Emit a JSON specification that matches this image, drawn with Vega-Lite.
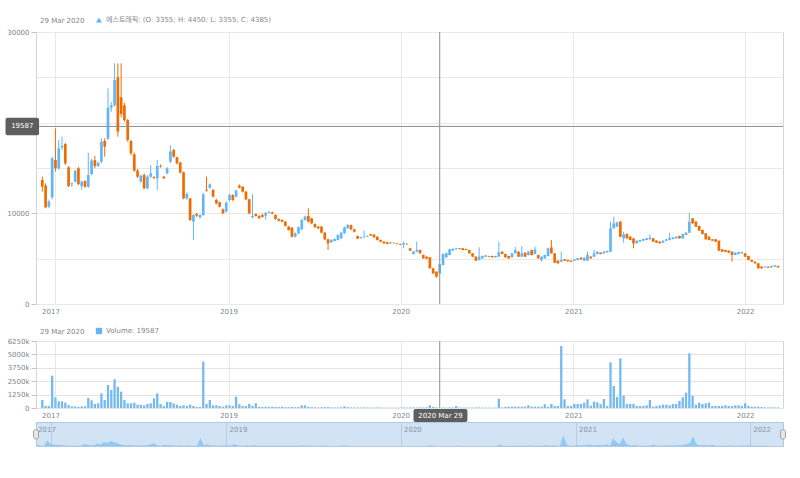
{
  "$schema": "https://vega.github.io/schema/vega-lite/v6.json",
  "background": "white",
  "padding": {"left": 5, "top": 15, "right": 17, "bottom": 20},
  "bounds": "flush",
  "spacing": 14,
  "data": {"values": [
{"i":0,"o":13678,"h":14045,"l":12391,"c":12943,"v":747000},
{"i":1,"o":13053,"h":13300,"l":10553,"c":10664,"v":200000},
{"i":2,"o":10737,"h":11500,"l":10600,"c":11288,"v":190000},
{"i":3,"o":11766,"h":16251,"l":11546,"c":16067,"v":3016000},
{"i":4,"o":15884,"h":19376,"l":14600,"c":14964,"v":995000},
{"i":5,"o":14964,"h":18089,"l":14781,"c":17170,"v":622000},
{"i":6,"o":17280,"h":18457,"l":17000,"c":17427,"v":622000},
{"i":7,"o":17648,"h":17795,"l":15332,"c":15516,"v":500000},
{"i":8,"o":15075,"h":15200,"l":12900,"c":13016,"v":265000},
{"i":9,"o":13200,"h":13400,"l":12900,"c":13311,"v":155000},
{"i":10,"o":13494,"h":14800,"l":13400,"c":14707,"v":155000},
{"i":11,"o":14964,"h":15100,"l":13100,"c":13237,"v":110000},
{"i":12,"o":13000,"h":13600,"l":12600,"c":13494,"v":155000},
{"i":13,"o":13568,"h":13650,"l":12800,"c":12943,"v":155000},
{"i":14,"o":12943,"h":16692,"l":12800,"c":14229,"v":933000},
{"i":15,"o":14340,"h":16000,"l":14200,"c":15810,"v":715000},
{"i":16,"o":15884,"h":16324,"l":14964,"c":15222,"v":373000},
{"i":17,"o":15222,"h":15700,"l":15100,"c":15589,"v":435000},
{"i":18,"o":15700,"h":18273,"l":15516,"c":17905,"v":1368000},
{"i":19,"o":17979,"h":18273,"l":16251,"c":17353,"v":747000},
{"i":20,"o":18236,"h":23787,"l":18089,"c":21655,"v":2146000},
{"i":21,"o":21655,"h":22300,"l":21200,"c":21912,"v":1679000},
{"i":22,"o":21912,"h":26544,"l":21765,"c":24706,"v":2674000},
{"i":23,"o":24999,"h":26544,"l":18457,"c":19008,"v":1990000},
{"i":24,"o":22794,"h":26544,"l":20600,"c":20956,"v":1524000},
{"i":25,"o":21912,"h":22200,"l":20100,"c":20295,"v":747000},
{"i":26,"o":20295,"h":20400,"l":17900,"c":18089,"v":435000},
{"i":27,"o":17979,"h":18100,"l":16400,"c":16618,"v":435000},
{"i":28,"o":16500,"h":16700,"l":14600,"c":14707,"v":500000},
{"i":29,"o":14707,"h":14900,"l":13900,"c":14045,"v":311000},
{"i":30,"o":13494,"h":14300,"l":13400,"c":14119,"v":311000},
{"i":31,"o":14229,"h":14400,"l":12650,"c":12759,"v":250000},
{"i":32,"o":12759,"h":14200,"l":12650,"c":14045,"v":373000},
{"i":33,"o":14045,"h":15332,"l":13900,"c":14413,"v":435000},
{"i":34,"o":14000,"h":14100,"l":13800,"c":13900,"v":902000},
{"i":35,"o":13862,"h":15884,"l":12575,"c":15222,"v":1368000},
{"i":36,"o":15222,"h":15400,"l":15050,"c":15150,"v":373000},
{"i":37,"o":14045,"h":14100,"l":13800,"c":13862,"v":187000},
{"i":38,"o":14413,"h":15100,"l":14300,"c":14964,"v":560000},
{"i":39,"o":15700,"h":17500,"l":15516,"c":16802,"v":560000},
{"i":40,"o":16986,"h":17100,"l":16150,"c":16251,"v":435000},
{"i":41,"o":16178,"h":16250,"l":15400,"c":15516,"v":311000},
{"i":42,"o":15589,"h":15700,"l":14400,"c":14487,"v":187000},
{"i":43,"o":14523,"h":14600,"l":11550,"c":11656,"v":250000},
{"i":44,"o":11656,"h":12300,"l":11500,"c":12134,"v":187000},
{"i":45,"o":11656,"h":11700,"l":9150,"c":9267,"v":311000},
{"i":46,"o":9083,"h":9900,"l":7061,"c":9818,"v":187000},
{"i":47,"o":9928,"h":10050,"l":9600,"c":9744,"v":93000},
{"i":48,"o":9560,"h":9900,"l":9400,"c":9818,"v":93000},
{"i":49,"o":9818,"h":12250,"l":9700,"c":12097,"v":4322000},
{"i":50,"o":12600,"h":14045,"l":12400,"c":12500,"v":373000},
{"i":51,"o":12832,"h":13300,"l":12700,"c":13200,"v":747000},
{"i":52,"o":12575,"h":12700,"l":11750,"c":11840,"v":250000},
{"i":53,"o":11472,"h":11600,"l":11000,"c":11105,"v":250000},
{"i":54,"o":11215,"h":11300,"l":10650,"c":10737,"v":187000},
{"i":55,"o":10443,"h":10550,"l":9900,"c":10002,"v":124000},
{"i":56,"o":10186,"h":11300,"l":10100,"c":11178,"v":250000},
{"i":57,"o":11472,"h":12150,"l":11350,"c":12024,"v":250000},
{"i":58,"o":12024,"h":12100,"l":11350,"c":11472,"v":187000},
{"i":59,"o":11840,"h":12600,"l":11750,"c":12501,"v":1058000},
{"i":60,"o":13053,"h":13200,"l":12750,"c":12832,"v":343000},
{"i":61,"o":12943,"h":13000,"l":12300,"c":12391,"v":187000},
{"i":62,"o":12391,"h":12450,"l":11450,"c":11546,"v":187000},
{"i":63,"o":11546,"h":11600,"l":9900,"c":10002,"v":373000},
{"i":64,"o":9560,"h":12097,"l":9450,"c":9707,"v":187000},
{"i":65,"o":9928,"h":10000,"l":9650,"c":9707,"v":435000},
{"i":66,"o":9707,"h":9800,"l":9400,"c":9451,"v":124000},
{"i":67,"o":9800,"h":9950,"l":9550,"c":9600,"v":93000},
{"i":68,"o":9750,"h":10150,"l":9300,"c":10050,"v":124000},
{"i":69,"o":10050,"h":10250,"l":10000,"c":10150,"v":93000},
{"i":70,"o":10100,"h":10200,"l":9900,"c":9950,"v":124000},
{"i":71,"o":9817,"h":9900,"l":9300,"c":9376,"v":93000},
{"i":72,"o":9376,"h":9450,"l":9100,"c":9192,"v":93000},
{"i":73,"o":9266,"h":9350,"l":9000,"c":9082,"v":124000},
{"i":74,"o":9082,"h":9150,"l":8550,"c":8604,"v":80000},
{"i":75,"o":8530,"h":8600,"l":8100,"c":8163,"v":70000},
{"i":76,"o":8420,"h":8500,"l":7350,"c":7428,"v":90000},
{"i":77,"o":7428,"h":7900,"l":7350,"c":7795,"v":80000},
{"i":78,"o":7795,"h":8550,"l":7700,"c":8457,"v":90000},
{"i":79,"o":8236,"h":9400,"l":8150,"c":9266,"v":250000},
{"i":80,"o":9266,"h":9750,"l":9200,"c":9633,"v":250000},
{"i":81,"o":9707,"h":10550,"l":9000,"c":9082,"v":120000},
{"i":82,"o":9450,"h":9500,"l":8800,"c":8898,"v":80000},
{"i":83,"o":8825,"h":8900,"l":8400,"c":8457,"v":70000},
{"i":84,"o":8530,"h":8600,"l":8250,"c":8347,"v":60000},
{"i":85,"o":8530,"h":8600,"l":7800,"c":7869,"v":70000},
{"i":86,"o":7869,"h":7950,"l":7050,"c":7133,"v":80000},
{"i":87,"o":7133,"h":7200,"l":5957,"c":6692,"v":90000},
{"i":88,"o":6803,"h":7150,"l":6750,"c":7060,"v":60000},
{"i":89,"o":6950,"h":7250,"l":6900,"c":7170,"v":50000},
{"i":90,"o":7060,"h":7700,"l":7000,"c":7612,"v":60000},
{"i":91,"o":7244,"h":7950,"l":7200,"c":7869,"v":70000},
{"i":92,"o":7795,"h":8550,"l":7750,"c":8457,"v":155000},
{"i":93,"o":8347,"h":8800,"l":8300,"c":8714,"v":80000},
{"i":94,"o":8714,"h":8750,"l":8150,"c":8236,"v":60000},
{"i":95,"o":8236,"h":8300,"l":7900,"c":7979,"v":50000},
{"i":96,"o":7501,"h":7550,"l":7150,"c":7207,"v":50000},
{"i":97,"o":7244,"h":7450,"l":7200,"c":7354,"v":40000},
{"i":98,"o":7354,"h":8100,"l":7300,"c":7428,"v":60000},
{"i":99,"o":7428,"h":7550,"l":7380,"c":7501,"v":50000},
{"i":100,"o":7700,"h":7750,"l":7500,"c":7550,"v":40000},
{"i":101,"o":7650,"h":7700,"l":7300,"c":7354,"v":40000},
{"i":102,"o":7428,"h":7450,"l":7000,"c":7060,"v":50000},
{"i":103,"o":7060,"h":7100,"l":6800,"c":6876,"v":40000},
{"i":104,"o":6876,"h":6950,"l":6650,"c":6692,"v":30000},
{"i":105,"o":6803,"h":6850,"l":6580,"c":6619,"v":30000},
{"i":106,"o":6766,"h":6800,"l":6650,"c":6692,"v":30000},
{"i":107,"o":6692,"h":6800,"l":6650,"c":6766,"v":30000},
{"i":108,"o":6692,"h":6720,"l":6580,"c":6619,"v":30000},
{"i":109,"o":6619,"h":6650,"l":6500,"c":6545,"v":40000},
{"i":110,"o":6545,"h":6900,"l":6141,"c":6692,"v":60000},
{"i":111,"o":6650,"h":6700,"l":6550,"c":6582,"v":40000},
{"i":112,"o":6141,"h":6200,"l":5850,"c":5884,"v":60000},
{"i":113,"o":5516,"h":5850,"l":5450,"c":5773,"v":50000},
{"i":114,"o":5773,"h":6876,"l":5700,"c":5957,"v":40000},
{"i":115,"o":5957,"h":6000,"l":5550,"c":5590,"v":60000},
{"i":116,"o":5406,"h":5450,"l":5000,"c":5038,"v":50000},
{"i":117,"o":5222,"h":5250,"l":4950,"c":5001,"v":60000},
{"i":118,"o":5149,"h":5200,"l":3900,"c":3935,"v":250000},
{"i":119,"o":3935,"h":4000,"l":3300,"c":3384,"v":90000},
{"i":120,"o":3568,"h":3600,"l":2900,"c":3016,"v":60000},
{"i":121,"o":3355,"h":4450,"l":3355,"c":4385,"v":19587},
{"i":122,"o":4303,"h":5600,"l":4250,"c":5516,"v":50000},
{"i":123,"o":5149,"h":5700,"l":5100,"c":5590,"v":40000},
{"i":124,"o":5406,"h":6100,"l":5350,"c":6031,"v":60000},
{"i":125,"o":5884,"h":6150,"l":5850,"c":6067,"v":50000},
{"i":126,"o":6031,"h":6200,"l":6000,"c":6141,"v":187000},
{"i":127,"o":6141,"h":6180,"l":6030,"c":6067,"v":50000},
{"i":128,"o":6141,"h":6180,"l":5920,"c":5957,"v":40000},
{"i":129,"o":6067,"h":6100,"l":5920,"c":5957,"v":40000},
{"i":130,"o":5957,"h":6000,"l":5550,"c":5590,"v":50000},
{"i":131,"o":5590,"h":5620,"l":5180,"c":5222,"v":40000},
{"i":132,"o":5222,"h":5250,"l":4750,"c":4781,"v":50000},
{"i":133,"o":4854,"h":6251,"l":4800,"c":5222,"v":60000},
{"i":134,"o":5038,"h":5350,"l":5000,"c":5296,"v":40000},
{"i":135,"o":5222,"h":5400,"l":5180,"c":5369,"v":40000},
{"i":136,"o":5296,"h":5330,"l":5190,"c":5222,"v":30000},
{"i":137,"o":5296,"h":5330,"l":5110,"c":5149,"v":30000},
{"i":138,"o":5149,"h":5330,"l":5110,"c":5296,"v":40000},
{"i":139,"o":5222,"h":6876,"l":5190,"c":5700,"v":870000},
{"i":140,"o":5773,"h":5800,"l":5480,"c":5516,"v":60000},
{"i":141,"o":5516,"h":5550,"l":5110,"c":5149,"v":100000},
{"i":142,"o":5296,"h":5330,"l":5000,"c":5038,"v":125000},
{"i":143,"o":5149,"h":5620,"l":5110,"c":5590,"v":125000},
{"i":144,"o":5590,"h":6300,"l":5550,"c":5957,"v":125000},
{"i":145,"o":5773,"h":5800,"l":5180,"c":5222,"v":125000},
{"i":146,"o":5222,"h":6400,"l":5180,"c":5590,"v":125000},
{"i":147,"o":5650,"h":5700,"l":5180,"c":5222,"v":125000},
{"i":148,"o":5405,"h":5850,"l":5350,"c":5772,"v":250000},
{"i":149,"o":5956,"h":6000,"l":5350,"c":5405,"v":125000},
{"i":150,"o":5515,"h":6324,"l":5480,"c":6030,"v":125000},
{"i":151,"o":5405,"h":5450,"l":5000,"c":5037,"v":125000},
{"i":152,"o":4853,"h":5260,"l":4669,"c":5221,"v":125000},
{"i":153,"o":5037,"h":5450,"l":5000,"c":5405,"v":343000},
{"i":154,"o":5295,"h":6200,"l":5250,"c":6140,"v":125000},
{"i":155,"o":6250,"h":7059,"l":5550,"c":5589,"v":374000},
{"i":156,"o":5589,"h":5620,"l":4500,"c":4559,"v":187000},
{"i":157,"o":4780,"h":4820,"l":4450,"c":4486,"v":187000},
{"i":158,"o":4669,"h":5772,"l":4620,"c":4853,"v":5783000},
{"i":159,"o":4927,"h":4960,"l":4740,"c":4780,"v":809000},
{"i":160,"o":4853,"h":4890,"l":4670,"c":4706,"v":187000},
{"i":161,"o":4780,"h":4810,"l":4630,"c":4669,"v":187000},
{"i":162,"o":4780,"h":4960,"l":4740,"c":4927,"v":374000},
{"i":163,"o":4853,"h":5070,"l":4820,"c":5037,"v":374000},
{"i":164,"o":5111,"h":5150,"l":4890,"c":4927,"v":374000},
{"i":165,"o":4780,"h":5150,"l":4740,"c":5111,"v":499000},
{"i":166,"o":4780,"h":5772,"l":4740,"c":5405,"v":809000},
{"i":167,"o":5221,"h":5260,"l":5000,"c":5037,"v":219000},
{"i":168,"o":5221,"h":5956,"l":5180,"c":5589,"v":592000},
{"i":169,"o":5515,"h":5810,"l":5480,"c":5772,"v":530000},
{"i":170,"o":5662,"h":5700,"l":5480,"c":5515,"v":343000},
{"i":171,"o":5589,"h":5810,"l":5550,"c":5772,"v":841000},
{"i":172,"o":5699,"h":5880,"l":5660,"c":5846,"v":187000},
{"i":173,"o":5772,"h":9081,"l":5740,"c":8345,"v":4260000},
{"i":174,"o":8345,"h":9632,"l":8300,"c":8897,"v":2053000},
{"i":175,"o":8530,"h":9100,"l":8480,"c":9007,"v":1027000},
{"i":176,"o":9081,"h":9150,"l":7380,"c":7427,"v":4634000},
{"i":177,"o":7243,"h":7978,"l":6765,"c":7684,"v":1151000},
{"i":178,"o":7721,"h":7800,"l":7200,"c":7243,"v":374000},
{"i":179,"o":7427,"h":7480,"l":7020,"c":7059,"v":374000},
{"i":180,"o":7243,"h":7280,"l":6140,"c":6691,"v":374000},
{"i":181,"o":6691,"h":7020,"l":6650,"c":6986,"v":187000},
{"i":182,"o":6875,"h":7100,"l":6840,"c":7059,"v":187000},
{"i":183,"o":6986,"h":7200,"l":6950,"c":7169,"v":187000},
{"i":184,"o":7059,"h":7280,"l":7020,"c":7243,"v":250000},
{"i":185,"o":7133,"h":7684,"l":7100,"c":7316,"v":747000},
{"i":186,"o":7243,"h":7280,"l":6840,"c":6875,"v":125000},
{"i":187,"o":6986,"h":7020,"l":6730,"c":6765,"v":187000},
{"i":188,"o":6875,"h":6910,"l":6650,"c":6691,"v":250000},
{"i":189,"o":6765,"h":7020,"l":6730,"c":6986,"v":312000},
{"i":190,"o":6986,"h":7170,"l":6950,"c":7133,"v":312000},
{"i":191,"o":7059,"h":7868,"l":7020,"c":7243,"v":250000},
{"i":192,"o":7169,"h":7390,"l":7130,"c":7353,"v":374000},
{"i":193,"o":7243,"h":7460,"l":7200,"c":7427,"v":374000},
{"i":194,"o":7500,"h":7540,"l":7200,"c":7243,"v":654000},
{"i":195,"o":7243,"h":7760,"l":7200,"c":7721,"v":996000},
{"i":196,"o":7611,"h":7900,"l":7570,"c":7868,"v":1431000},
{"i":197,"o":7868,"h":10073,"l":7830,"c":9081,"v":5100000},
{"i":198,"o":9448,"h":9500,"l":8850,"c":8897,"v":1151000},
{"i":199,"o":9081,"h":9120,"l":8490,"c":8530,"v":312000},
{"i":200,"o":8603,"h":8640,"l":8050,"c":8088,"v":499000},
{"i":201,"o":8162,"h":8200,"l":7680,"c":7721,"v":374000},
{"i":202,"o":7794,"h":7830,"l":7100,"c":7133,"v":436000},
{"i":203,"o":7427,"h":7460,"l":7020,"c":7059,"v":499000},
{"i":204,"o":7133,"h":7170,"l":6950,"c":6986,"v":187000},
{"i":205,"o":7133,"h":7170,"l":6840,"c":6875,"v":187000},
{"i":206,"o":6986,"h":7020,"l":5850,"c":5883,"v":187000},
{"i":207,"o":6030,"h":6070,"l":5740,"c":5772,"v":187000},
{"i":208,"o":5956,"h":5990,"l":5740,"c":5772,"v":250000},
{"i":209,"o":5883,"h":5920,"l":5620,"c":5662,"v":187000},
{"i":210,"o":5772,"h":5810,"l":4669,"c":5405,"v":187000},
{"i":211,"o":5405,"h":5700,"l":5370,"c":5662,"v":250000},
{"i":212,"o":5515,"h":5770,"l":5480,"c":5736,"v":250000},
{"i":213,"o":5589,"h":5770,"l":5550,"c":5736,"v":187000},
{"i":214,"o":5589,"h":5620,"l":5180,"c":5221,"v":436000},
{"i":215,"o":5295,"h":5330,"l":4820,"c":4853,"v":187000},
{"i":216,"o":4853,"h":4890,"l":4630,"c":4669,"v":125000},
{"i":217,"o":4669,"h":4700,"l":4450,"c":4486,"v":125000},
{"i":218,"o":4486,"h":4520,"l":3900,"c":3934,"v":125000},
{"i":219,"o":4118,"h":4150,"l":3900,"c":3934,"v":93000},
{"i":220,"o":4045,"h":4150,"l":4010,"c":4118,"v":60000},
{"i":221,"o":4118,"h":4150,"l":3970,"c":4008,"v":60000},
{"i":222,"o":4045,"h":4230,"l":4010,"c":4192,"v":60000},
{"i":223,"o":4118,"h":4300,"l":4080,"c":4265,"v":60000},
{"i":224,"o":4192,"h":4230,"l":4010,"c":4045,"v":60000}
  ]},
  "vconcat": [
    {
      "width": 747,
      "height": 272,
      "layer": [
        {
          "mark": {"type": "rule", "clip": true, "strokeWidth": 1},
          "encoding": {
            "x": {"field": "i", "type": "quantitative", "title": null,
              "scale": {"domain": [-0.4, 224], "nice": false, "zero": false},
              "axis": {"values": [4, 56.7, 109.1, 161.7, 214],
                "labelExpr": "datum.value < 10 ? '2017' : datum.value < 80 ? '2019' : datum.value < 130 ? '2020' : datum.value < 190 ? '2021' : '2022'",
                "grid": true, "ticks": false, "domain": false, "labelPadding": 3,
                "labelOffset": {"condition": {"test": "datum.value < 10", "value": -5}, "value": 0}}},
            "y": {"field": "l", "type": "quantitative", "title": null,
              "scale": {"domain": [0, 30000], "nice": false},
              "axis": {"values": [0, 2500, 5000, 7500, 10000, 12500, 15000, 17500, 20000, 22500, 25000, 27500, 30000],
                "format": "d",
                "labelExpr": "(datum.value === 0 || datum.value === 10000 || datum.value === 30000) ? datum.label : ''",
                "tickSize": 5, "labelPadding": 2,
                "tickOpacity": {"condition": {"test": "datum.value % 10000 === 0", "value": 1}, "value": 0}}},
            "y2": {"field": "h"},
            "color": {"condition": {"test": "datum.c >= datum.o", "value": "#64b5f6"}, "value": "#ef6c00"}
          }
        },
        {
          "mark": {"type": "bar", "clip": true, "width": 2.7},
          "encoding": {
            "x": {"field": "i", "type": "quantitative"},
            "y": {"field": "o", "type": "quantitative"},
            "y2": {"field": "c"},
            "color": {"condition": {"test": "datum.c >= datum.o", "value": "#64b5f6"}, "value": "#ef6c00"}
          }
        },
        {
          "data": {"values": [{}]},
          "mark": {"type": "rule", "color": "#8e8e8e", "strokeWidth": 1},
          "encoding": {"x": {"datum": 121}}
        },
        {
          "data": {"values": [{}]},
          "mark": {"type": "rule", "color": "#8e8e8e", "strokeWidth": 1},
          "encoding": {"y": {"datum": 19587}}
        },
        {
          "data": {"values": [{}]},
          "mark": {"type": "rect", "fill": "#5e5e5e", "cornerRadius": 2},
          "encoding": {"x": {"datum": -11.2}, "x2": {"datum": -1.0}, "y": {"datum": 20550}, "y2": {"datum": 18620}}
        },
        {
          "data": {"values": [{}]},
          "mark": {"type": "text", "color": "#ffffff", "fontSize": 7, "align": "center", "baseline": "middle"},
          "encoding": {"x": {"datum": -6.1}, "y": {"datum": 19587}, "text": {"value": "19587"}}
        },
        {
          "data": {"values": [{}]},
          "mark": {"type": "point", "filled": true, "opacity": 0, "color": "#64b5f6"},
          "encoding": {
            "x": {"datum": 121}, "y": {"datum": 3870},
            "shape": {"datum": "에스트래픽: (O: 3355; H: 4450; L: 3355; C: 4385)",
              "scale": {"range": ["triangle-up"]},
              "legend": {"orient": "none", "legendX": 4, "legendY": -16, "direction": "horizontal",
                "title": "29 Mar 2020", "titleOrient": "left", "titleFontWeight": "normal", "titleFontSize": 7,
                "titleColor": "#7c868e", "titlePadding": 10, "labelFontSize": 7, "labelColor": "#7c868e",
                "labelLimit": 0,
                "symbolSize": 36, "symbolOpacity": 1, "symbolFillColor": "#64b5f6", "symbolStrokeColor": "#64b5f6",
                "labelOffset": 3, "padding": 0}}
          }
        }
      ]
    },
    {
      "width": 747,
      "height": 9,
      "data": {"values": [{}]},
      "view": {"stroke": null},
      "mark": {"type": "rule", "opacity": 0},
      "encoding": {}
    },
    {
      "width": 747,
      "height": 67,
      "layer": [
        {
          "mark": {"type": "bar", "clip": true, "width": 2.3, "color": "#74b9ef"},
          "encoding": {
            "x": {"field": "i", "type": "quantitative", "title": null,
              "scale": {"domain": [-0.4, 224], "nice": false, "zero": false},
              "axis": {"values": [4, 56.7, 109.1, 161.7, 214],
                "labelExpr": "datum.value < 10 ? '2017' : datum.value < 80 ? '2019' : datum.value < 130 ? '2020' : datum.value < 190 ? '2021' : '2022'",
                "grid": true, "ticks": false, "domain": false, "labelPadding": 3,
                "labelOffset": {"condition": {"test": "datum.value < 10", "value": -5}, "value": 0}}},
            "y": {"field": "v", "type": "quantitative", "title": null,
              "scale": {"domain": [0, 6250000], "nice": false},
              "axis": {"values": [0, 1250000, 2500000, 3750000, 5000000, 6250000],
                "format": "d",
                "labelExpr": "datum.value === 0 ? '0' : (datum.value / 1000) + 'k'",
                "labelOverlap": false, "labelFlush": false, "grid": true, "gridColor": "#e3e3e3",
                "tickSize": 5, "labelPadding": 2}}
          }
        },
        {
          "data": {"values": [{}]},
          "mark": {"type": "rule", "color": "#8e8e8e", "strokeWidth": 1},
          "encoding": {"x": {"datum": 121}}
        }
      ]
    },
    {
      "width": 747,
      "height": 24,
      "view": {"fill": "#d3e3f6", "stroke": "#b3c8e2"},
      "layer": [
        {
          "mark": {"type": "area", "clip": true, "color": "#64b5f6", "opacity": 0.6},
          "encoding": {
            "x": {"field": "i", "type": "quantitative", "title": null,
              "scale": {"domain": [-0.4, 224], "nice": false, "zero": false},
              "axis": {"orient": "top", "values": [4, 56.7, 109.1, 161.7, 214],
                "labelExpr": "datum.value < 10 ? '2017' : datum.value < 80 ? '2019' : datum.value < 130 ? '2020' : datum.value < 190 ? '2021' : '2022'",
                "grid": true, "gridColor": "#b8cce6", "ticks": false, "domain": false,
                "labelAlign": "left", "labelBaseline": "top", "labelPadding": -3,
                "labelOffset": {"condition": {"test": "datum.value < 10", "value": -13}, "value": 3},
                "labelColor": "#8a939b"}},
            "y": {"field": "v", "type": "quantitative", "scale": {"domain": [0, 13000000], "nice": false}, "axis": null}
          }
        },
        {
          "data": {"values": [{}]},
          "mark": {"type": "rect", "fill": "#e6e6e6", "stroke": "#a0a0a0", "strokeWidth": 1, "cornerRadius": 2},
          "encoding": {"x": {"datum": -1.15}, "x2": {"datum": 0.35}, "y": {"datum": 8800000}, "y2": {"datum": 3800000}}
        },
        {
          "data": {"values": [{}]},
          "mark": {"type": "rect", "fill": "#e6e6e6", "stroke": "#a0a0a0", "strokeWidth": 1, "cornerRadius": 2},
          "encoding": {"x": {"datum": 223.25}, "x2": {"datum": 224.75}, "y": {"datum": 8800000}, "y2": {"datum": 3800000}}
        },
        {
          "data": {"values": [{}]},
          "mark": {"type": "rect", "fill": "#5e5e5e", "cornerRadius": 2},
          "encoding": {"x": {"datum": 113.0}, "x2": {"datum": 129.2}, "y": {"datum": 20000000}, "y2": {"datum": 13000000}}
        },
        {
          "data": {"values": [{}]},
          "mark": {"type": "text", "color": "#ffffff", "fontSize": 7, "align": "center", "baseline": "middle"},
          "encoding": {"x": {"datum": 121.1}, "y": {"datum": 16500000}, "text": {"value": "2020 Mar 29"}}
        },
        {
          "data": {"values": [{}]},
          "mark": {"type": "point", "filled": true, "opacity": 0, "color": "#64b5f6"},
          "encoding": {
            "x": {"datum": 121}, "y": {"datum": 1000000},
            "shape": {"datum": "Volume: 19587",
              "scale": {"range": ["square"]},
              "legend": {"orient": "none", "legendX": 4, "legendY": -95, "direction": "horizontal",
                "title": "29 Mar 2020", "titleOrient": "left", "titleFontWeight": "normal", "titleFontSize": 7,
                "titleColor": "#7c868e", "titlePadding": 10, "labelFontSize": 7, "labelColor": "#7c868e",
                "labelLimit": 0,
                "symbolSize": 40, "symbolOpacity": 1, "symbolFillColor": "#74b9ef", "symbolStrokeColor": "#74b9ef",
                "labelOffset": 3, "padding": 0}}
          }
        }
      ]
    }
  ],
  "resolve": {
    "scale": {"x": "independent", "y": "independent", "shape": "independent"},
    "legend": {"shape": "independent"}
  },
  "config": {
    "font": "DejaVu Sans, Noto Sans CJK KR",
    "view": {"stroke": "#d4d4d4"},
    "axis": {"labelFontSize": 7, "labelColor": "#7c868e", "gridColor": "#e8e8e8", "domain": false, "tickColor": "#c4c4c4", "labelFont": "DejaVu Sans"},
    "legend": {"labelFont": "DejaVu Sans, Noto Sans CJK KR", "titleFont": "DejaVu Sans"},
    "text": {"font": "DejaVu Sans"}
  }
}
